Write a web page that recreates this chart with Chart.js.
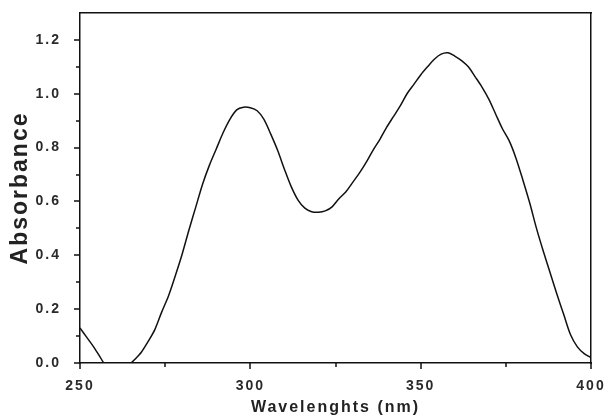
<!DOCTYPE html>
<html>
<head>
<meta charset="utf-8">
<script src="https://cdn.jsdelivr.net/npm/chart.js@4/dist/chart.umd.min.js"></script>
<style>
	html, body { margin: 0; padding: 0; background: #fff; }
	#wrap { width: 608px; height: 419px; }
</style>
</head>
<body>
<div id="wrap"><canvas id="chartAbs"></canvas></div>
<script>
var wavelengths = [250, 252, 254, 256, 258, 260, 262, 264, 265, 266, 268, 270, 272, 274, 276, 278, 280,
	282, 284, 286, 288, 290, 292, 294, 296, 298, 300, 302, 304, 306, 308, 310, 312, 314, 316, 318, 320,
	322, 324, 326, 328, 330, 332, 334, 336, 338, 340, 342, 344, 346, 348, 350, 352, 354, 356, 358, 360,
	362, 364, 366, 368, 370, 372, 374, 376, 378, 380, 382, 384, 386, 388, 390, 392, 394, 396, 398, 400];
var absorbance = [0.13, 0.095, 0.06, 0.02, -0.02, -0.05, -0.05, -0.02, 0.0, 0.012, 0.04, 0.08, 0.125, 0.19, 0.25, 0.325, 0.405,
	0.495, 0.58, 0.665, 0.735, 0.795, 0.855, 0.905, 0.94, 0.95, 0.948, 0.937, 0.905, 0.85, 0.79, 0.72, 0.655, 0.605, 0.575, 0.562, 0.56,
	0.565, 0.58, 0.61, 0.635, 0.67, 0.705, 0.745, 0.79, 0.83, 0.875, 0.915, 0.955, 1.0, 1.035, 1.07, 1.1, 1.128, 1.147, 1.152, 1.14,
	1.123, 1.1, 1.063, 1.025, 0.98, 0.925, 0.87, 0.825, 0.76, 0.68, 0.595, 0.5, 0.415, 0.335, 0.255, 0.18, 0.105, 0.06, 0.035, 0.02];

var xMajorTicks = [250, 300, 350, 400];
var xMinorTicks = [275, 325, 375];
var yMajorTicks = [0, 0.2, 0.4, 0.6, 0.8, 1.0, 1.2];
var yMinorTicks = [0.1, 0.3, 0.5, 0.7, 0.9, 1.1];

var textColor = '#2a2a2a';

// small outward tick marks, major longer than minor
var tickMarks = {
	id: 'tickMarks',
	beforeLayout: function (chart) { chart.ctx.letterSpacing = '2px'; },
	beforeDraw: function (chart) { chart.ctx.letterSpacing = '2px'; },
	afterDraw: function (chart) {
		var ctx = chart.ctx;
		var xs = chart.scales.x, ys = chart.scales.y;
		var area = chart.chartArea;
		ctx.save();
		ctx.strokeStyle = '#111';
		ctx.lineWidth = 1.5;
		ctx.beginPath();
		xMajorTicks.concat(xMinorTicks).forEach(function (v) {
			var len = xMajorTicks.indexOf(v) >= 0 ? 6 : 4;
			var px = Math.round(xs.getPixelForValue(v));
			ctx.moveTo(px, area.bottom);
			ctx.lineTo(px, area.bottom + len);
		});
		yMajorTicks.concat(yMinorTicks).forEach(function (v) {
			var len = yMajorTicks.indexOf(v) >= 0 ? 6 : 4;
			var py = Math.round(ys.getPixelForValue(v));
			ctx.moveTo(area.left, py);
			ctx.lineTo(area.left - len, py);
		});
		ctx.stroke();
		ctx.restore();
	}
};

function noPad(s) {
	s.paddingTop = 0;
	s.paddingBottom = 0;
	s.paddingLeft = 0;
	s.paddingRight = 0;
}

new Chart(document.getElementById('chartAbs'), {
	type: 'line',
	data: {
		labels: wavelengths,
		datasets: [{
			data: wavelengths.map(function (w, i) { return { x: w, y: absorbance[i] }; }),
			borderColor: '#111',
			borderWidth: 1.5,
			pointRadius: 0,
			tension: 0.3,
			fill: false
		}]
	},
	options: {
		responsive: true,
		maintainAspectRatio: false,
		animation: false,
		layout: { padding: { top: 13, right: 17, left: 7, bottom: 2 } },
		plugins: { legend: { display: false }, tooltip: { enabled: false } },
		scales: {
			x: {
				type: 'linear',
				min: 250,
				max: 400,
				afterBuildTicks: function (s) { s.ticks = xMajorTicks.map(function (v) { return { value: v }; }); },
				afterFit: function (s) { s.height = 54; noPad(s); },
				grid: { display: false },
				border: { display: true, color: '#111', width: 1.5 },
				ticks: { color: textColor, padding: 7, maxRotation: 0, font: { family: 'Liberation Sans', size: 14, weight: 'bold' } },
				title: { display: true, text: 'Wavelenghts (nm)', color: '#222', padding: { top: 3, bottom: 0 }, font: { family: 'Liberation Sans', size: 16, weight: 'bold' } }
			},
			x2: {
				type: 'linear',
				position: 'top',
				min: 250,
				max: 400,
				afterFit: function (s) { s.height = 0; noPad(s); },
				grid: { display: false },
				border: { display: true, color: '#111', width: 1.5 },
				ticks: { display: false }
			},
			y: {
				min: 0,
				max: 1.3,
				afterBuildTicks: function (s) { s.ticks = yMajorTicks.map(function (v) { return { value: v }; }); },
				afterFit: function (s) { s.width = 73; noPad(s); },
				grid: { display: false },
				border: { display: true, color: '#111', width: 1.5 },
				ticks: { color: textColor, padding: 11, font: { family: 'Liberation Sans', size: 14, weight: 'bold' },
					callback: function (v) { return v.toFixed(1); } },
				title: { display: true, text: 'Absorbance', color: '#222', padding: { top: 0, bottom: 4 }, font: { family: 'Liberation Sans', size: 23, weight: 'bold' } }
			},
			y2: {
				position: 'right',
				min: 0,
				max: 1.3,
				afterFit: function (s) { s.width = 0; noPad(s); },
				grid: { display: false },
				border: { display: true, color: '#111', width: 1.5 },
				ticks: { display: false }
			}
		}
	},
	plugins: [tickMarks]
});
</script>
</body>
</html>
